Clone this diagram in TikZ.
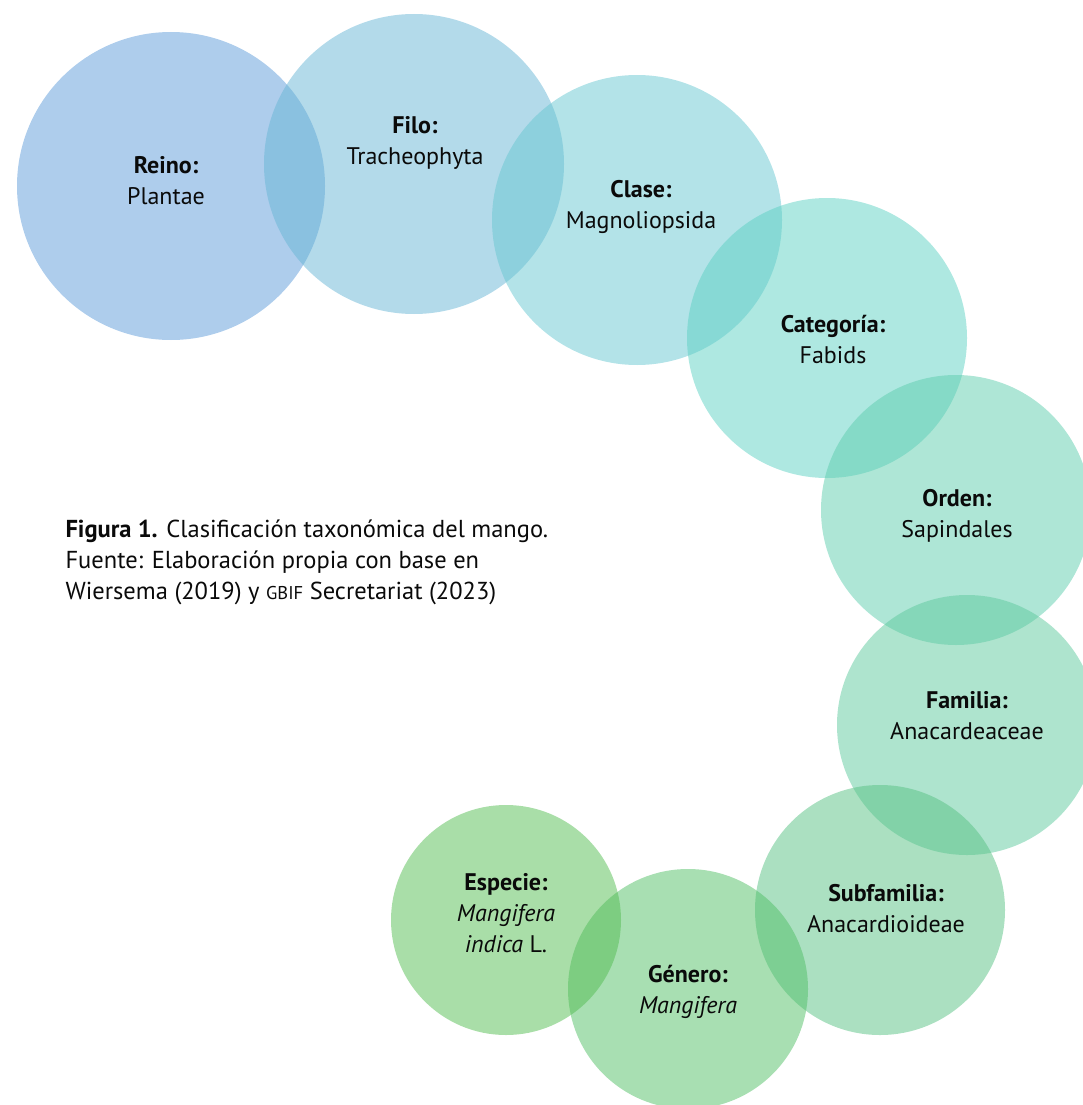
\documentclass[tikz,border=0pt]{standalone}
\usepackage{fontspec}
\setmainfont{PT Sans}
\usepackage{tikz}
\usetikzlibrary{positioning}

% fill colours (shown at half opacity)
\definecolor{reinoC}{RGB}{93,155,217}
\definecolor{filoC}{RGB}{103,181,213}
\definecolor{claseC}{RGB}{103,199,209}
\definecolor{categC}{RGB}{93,209,195}
\definecolor{ordenC}{RGB}{93,205,173}
\definecolor{familiaC}{RGB}{93,201,157}
\definecolor{subfamC}{RGB}{87,193,131}
\definecolor{generoC}{RGB}{81,191,101}
\definecolor{especieC}{RGB}{83,189,81}
\definecolor{inkC}{RGB}{10,10,10}

\begin{document}
\begin{tikzpicture}[
  x=1pt, y=-1pt,
  taxon/.style={circle, draw=none, inner sep=0pt, fill opacity=0.5},
  rank/.style={align=center, text=inkC, font=\fontsize{24}{31}\selectfont},
  caption/.style={align=left, anchor=west, text=inkC, font=\fontsize{24.5}{31}\selectfont}
]
\useasboundingbox (0,0) rectangle (1083,1105);

% circles
\node[taxon, fill=reinoC,    minimum size=308pt] (reino)   at (171,186) {};
\node[taxon, fill=filoC,     minimum size=300pt] (filo)    at (414,164) {};
\node[taxon, fill=claseC,    minimum size=290pt] (clase)   at (637,220) {};
\node[taxon, fill=categC,    minimum size=280pt] (categ)   at (827,338) {};
\node[taxon, fill=ordenC,    minimum size=270pt] (orden)   at (956,510) {};
\node[taxon, fill=familiaC,  minimum size=260pt] (familia) at (967,725) {};
\node[taxon, fill=subfamC,   minimum size=250pt] (subfam)  at (880,910) {};
\node[taxon, fill=generoC,   minimum size=240pt] (genero)  at (688,989) {};
\node[taxon, fill=especieC,  minimum size=230pt] (especie) at (506,920) {};

% labels
\node[rank] (reinoT)   at (166,181) {\textbf{Reino:}\\Plantae};
\node[rank] (filoT)    at (415,143) {\textbf{Filo:}\\Tracheophyta};
\node[rank] (claseT)   at (641,207) {\textbf{Clase:}\\Magnoliopsida};
\node[rank] (categT)   at (833,340) {\textbf{Categoría:}\\Fabids};
\node[rank] (ordenT)   at (957,516) {\textbf{Orden:}\\Sapindales};
\node[rank] (familiaT) at (967,716) {\textbf{Familia:}\\Anacardeaceae};
\node[rank] (subfamT)  at (886,909) {\textbf{Subfamilia:}\\Anacardioideae};
\node[rank] (generoT)  at (688,992) {\textbf{Género:}\\\textit{Mangifera}};
\node[rank] (especieT) at (506,913) {\textbf{Especie:}\\\textit{Mangifera}\\\textit{indica} L.};

% caption
\node[caption] (pie) at (62,562) {\textbf{Figura 1.} Clasificación taxonómica del mango.\\
  Fuente: Elaboración propia con base en\\
  Wiersema (2019) y {\fontsize{18.5}{31}\selectfont GBIF} Secretariat (2023)};
\end{tikzpicture}
\end{document}
